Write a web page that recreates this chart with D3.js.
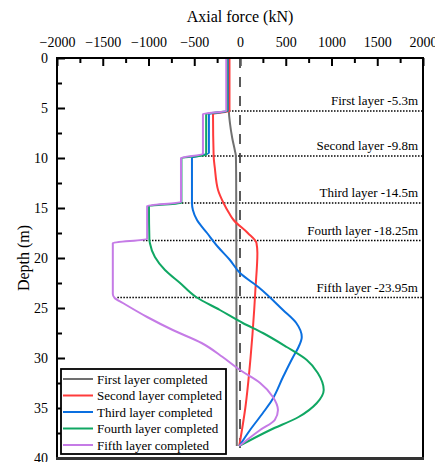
<!DOCTYPE html>
<html>
<head>
<meta charset="utf-8">
<script src="https://cdn.jsdelivr.net/npm/d3@7"></script>
<style>
  body { margin: 0; background: #fff; }
  svg text { font-family: "Liberation Serif", "DejaVu Serif", serif; fill: #000; }
</style>
</head>
<body>
<svg width="435" height="462"></svg>
<script>
// series: [depth (m), axial force (kN)]
const firstLayer = [[0,-130],[2,-128],[5.3,-122],[6.5,-110],[8,-85],[9.3,-55],[9.8,-45],[12,-42],[20,-40],[30,-38],[38.8,-35]];
const secondLayer = [[0,-115],[5.3,-115],[5.6,-295],[9.8,-288],[11,-275],[13.2,-240],[14.5,-180],[15.5,-120],[16.2,-70],[17.5,85],[18.5,180],[19.5,190],[23.2,168],[25.2,155],[30,115],[35,58],[38.8,-8]];
const thirdLayer = [[0,-135],[5.3,-135],[5.6,-340],[9.5,-340],[10,-525],[14.5,-525],[15.2,-515],[16.2,-470],[17.5,-360],[18.9,-240],[20.2,-110],[21.5,0],[22.9,200],[25.2,470],[26.5,615],[27.9,675],[28.9,640],[29.9,580],[31.9,470],[34.2,350],[35.5,250],[37.2,110],[38.8,-8]];
const fourthLayer = [[0,-142],[5.3,-142],[5.6,-370],[9.7,-370],[10,-640],[14.5,-640],[14.8,-995],[18.2,-990],[18.5,-985],[19.9,-930],[21.2,-820],[22.5,-655],[23.9,-480],[25.2,-220],[26.5,30],[27.5,250],[28.9,510],[30.2,730],[31.5,850],[33.2,915],[34.5,840],[35.9,640],[37.2,330],[38.8,-8]];
const fifthLayer = [[0,-150],[5.3,-150],[5.6,-405],[9.6,-405],[10,-645],[14.4,-645],[14.8,-1015],[18.1,-1015],[18.5,-1390],[23.6,-1390],[24.0,-1370],[24.5,-1280],[25.9,-1015],[27.2,-735],[28.5,-420],[29.9,-190],[31.2,0],[32.5,220],[33.9,360],[35.2,415],[36.2,380],[37.2,220],[38.8,-8]];

const seriesNames = ["First layer completed","Second layer completed","Third layer completed","Fourth layer completed","Fifth layer completed"];
const seriesColors = ["#707070","#ff3b3b","#0a6fe0","#10a763","#c57be6"];
const seriesData = [firstLayer, secondLayer, thirdLayer, fourthLayer, fifthLayer];

// excavation layers: depth, label, x start of dotted line (kN)
const layerDepths = [5.3, 9.8, 14.5, 18.25, 23.95];
const layerLabels = ["First layer -5.3m","Second layer -9.8m","Third layer -14.5m","Fourth layer -18.25m","Fifth layer -23.95m"];
const layerStarts = [-120, -415, -635, -1060, -1340];

const xTicks = [-2000,-1500,-1000,-500,0,500,1000,1500,2000];
const yTicks = [0,5,10,15,20,25,30,35,40];

const serif = '"Liberation Serif", "DejaVu Serif", serif';

const svg = d3.select("svg");
const pLeft = 57, pRight = 423, pTop = 58, pBottom = 458;

const x = d3.scaleLinear().domain([-2000, 2000]).range([pLeft, pRight]);
const y = d3.scaleLinear().domain([0, 40]).range([pTop, pBottom]);

// axes
svg.append("g")
  .attr("transform", `translate(0,${pTop})`)
  .call(d3.axisTop(x).tickValues(xTicks).tickSize(-8).tickPadding(11).tickFormat(d3.format("d")))
  .attr("font-family", serif)
  .call(g => g.select(".domain").remove())
  .call(g => g.selectAll("line").attr("stroke", "#000").attr("stroke-width", 2))
  .call(g => g.selectAll("text").attr("font-size", 14));

svg.append("g")
  .attr("transform", `translate(0,${pTop})`)
  .call(d3.axisTop(x).tickValues(d3.range(-1750, 2000, 500)).tickSize(-5).tickFormat(""))
  .call(g => g.select(".domain").remove())
  .call(g => g.selectAll("line").attr("stroke", "#000").attr("stroke-width", 2));

svg.append("g")
  .attr("transform", `translate(${pLeft},0)`)
  .call(d3.axisLeft(y).tickValues(yTicks).tickSize(-8).tickPadding(9))
  .attr("font-family", serif)
  .call(g => g.select(".domain").remove())
  .call(g => g.selectAll("line").attr("stroke", "#000").attr("stroke-width", 2))
  .call(g => g.selectAll("text").attr("font-size", 14));

svg.append("g")
  .attr("transform", `translate(${pLeft},0)`)
  .call(d3.axisLeft(y).tickValues(d3.range(2.5, 40, 5)).tickSize(-5).tickFormat(""))
  .call(g => g.select(".domain").remove())
  .call(g => g.selectAll("line").attr("stroke", "#000").attr("stroke-width", 2));

// titles
svg.append("text")
  .attr("x", x(0)).attr("y", 22)
  .attr("text-anchor", "middle")
  .attr("font-size", 16)
  .text("Axial force (kN)");

svg.append("text")
  .attr("transform", `translate(29,${(pTop + pBottom) / 2}) rotate(-90)`)
  .attr("text-anchor", "middle")
  .attr("font-size", 16)
  .text("Depth (m)");

// zero line
svg.append("line")
  .attr("x1", x(0)).attr("x2", x(0))
  .attr("y1", pTop).attr("y2", y(39.4))
  .attr("stroke", "#5a5a5a").attr("stroke-width", 2)
  .attr("stroke-dasharray", "10,9");

// layer lines + labels
layerDepths.forEach((d, i) => {
  svg.append("line")
    .attr("x1", x(layerStarts[i])).attr("x2", pRight)
    .attr("y1", y(d)).attr("y2", y(d))
    .attr("stroke", "#000").attr("stroke-width", 1.5)
    .attr("stroke-dasharray", "1.5,1.5");
  svg.append("text")
    .attr("x", pRight - 5).attr("y", y(d) - 6)
    .attr("text-anchor", "end")
    .attr("font-size", 13)
    .text(layerLabels[i]);
});

// curves
const line = d3.line()
  .x(d => x(d[1]))
  .y(d => y(d[0]))
  .curve(d3.curveMonotoneY);

seriesData.forEach((s, i) => {
  svg.append("path")
    .datum(s)
    .attr("fill", "none")
    .attr("stroke", seriesColors[i])
    .attr("stroke-width", 2)
    .attr("d", line);
});

// frame
svg.append("rect")
  .attr("x", pLeft).attr("y", pTop)
  .attr("width", pRight - pLeft).attr("height", pBottom - pTop)
  .attr("fill", "none").attr("stroke", "#000").attr("stroke-width", 2);

svg.append("line")
  .attr("x1", pLeft - 1).attr("x2", pRight + 1)
  .attr("y1", pBottom + 0.5).attr("y2", pBottom + 0.5)
  .attr("stroke", "#333").attr("stroke-width", 3);

// legend
const legend = svg.append("g").attr("transform", "translate(61,369)");
legend.append("rect")
  .attr("width", 165).attr("height", 85)
  .attr("fill", "#fff").attr("stroke", "#000").attr("stroke-width", 1.8);

seriesNames.forEach((name, i) => {
  const row = legend.append("g").attr("transform", `translate(0,${10 + i * 16.5})`);
  row.append("line")
    .attr("x1", 2).attr("x2", 32)
    .attr("stroke", seriesColors[i]).attr("stroke-width", 2);
  row.append("text")
    .attr("x", 36).attr("y", 4.5)
    .attr("font-size", 13)
    .text(name);
});
</script>
</body>
</html>
